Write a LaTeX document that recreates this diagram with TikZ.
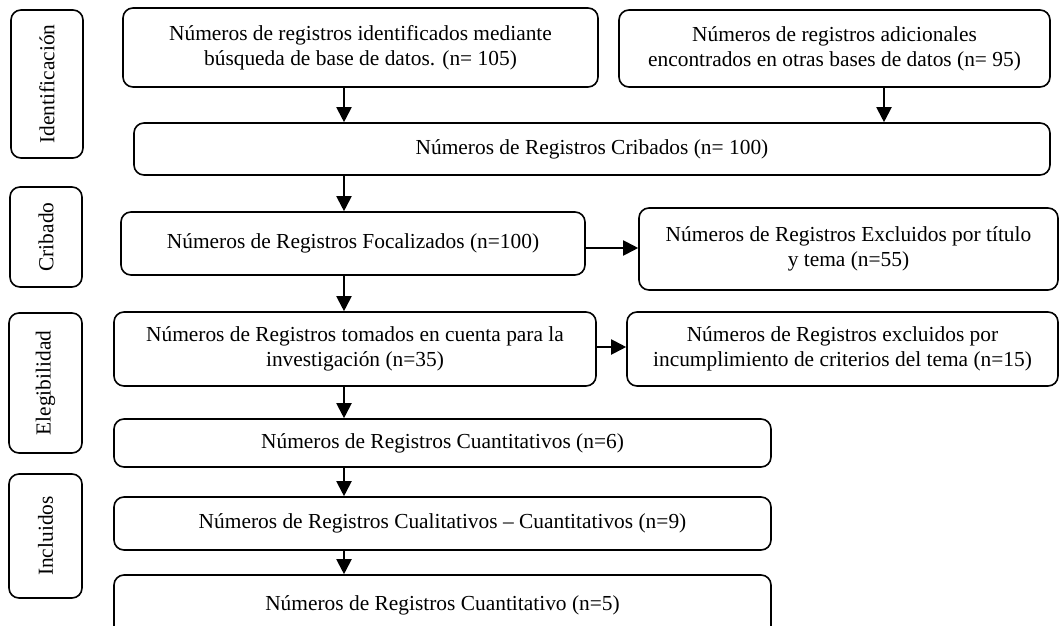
\documentclass[tikz,border=0pt]{standalone}
\usepackage{fontspec}
\setmainfont{Liberation Serif}
\usetikzlibrary{arrows.meta, positioning, calc}

\begin{document}
\begin{tikzpicture}[
                x=1pt, y=-1pt,
                box/.style={draw, rounded corners=10pt, line width=1.6pt, align=center, inner sep=0pt,
                    font=\fontsize{21.4}{25}\selectfont},
                phase/.style={box, rotate=90},
                arr/.style={-{Triangle[width=15pt,length=15pt]}, line width=2pt}
            ]
                \useasboundingbox (0,0) rectangle (1061,626);

                % Phases
                \node[phase, minimum width=148pt, minimum height=72pt] (ident) at (47,84) {Identificación};
                \node[phase, minimum width=100pt, minimum height=72pt] (crib) at (46,237) {Cribado};
                \node[phase, minimum width=140pt, minimum height=73pt] (eleg) at (45.5,383) {Elegibilidad};
                \node[phase, minimum width=124pt, minimum height=73pt] (incl) at (45.5,536) {Incluidos};

                % Boxes
                \node[box, minimum width=475pt, minimum height=79pt] (busq) at (360.5,47.5)
                    {Números de registros identificados mediante\\búsqueda de base de datos. (n= 105)};
                \node[box, minimum width=431pt, minimum height=77pt] (adic) at (834.5,48.5)
                    {Números de registros adicionales\\encontrados en otras bases de datos (n= 95)};
                \node[box, minimum width=916pt, minimum height=52pt] (cribados) at (592,149)
                    {Números de Registros Cribados (n= 100)};
                \node[box, minimum width=464pt, minimum height=63pt] (focal) at (353,243.5)
                    {Números de Registros Focalizados (n=100)};
                \node[box, minimum width=419pt, minimum height=82pt] (exctit) at (848.5,249)
                    {Números de Registros Excluidos por título\\y tema (n=55)};
                \node[box, minimum width=482pt, minimum height=74pt] (tomados) at (355,349)
                    {Números de Registros tomados en cuenta para la\\investigación (n=35)};
                \node[box, minimum width=431pt, minimum height=74pt] (exccrit) at (842.5,349)
                    {Números de Registros excluidos por\\incumplimiento de criterios del tema (n=15)};
                \node[box, minimum width=657pt, minimum height=48pt] (cuanti) at (442.5,443)
                    {Números de Registros Cuantitativos (n=6)};
                \node[box, minimum width=657pt, minimum height=53pt] (mixto) at (442.5,523.5)
                    {Números de Registros Cualitativos – Cuantitativos (n=9)};
                \node[box, minimum width=657pt, minimum height=61pt] (final) at (442.5,605.5)
                    {Números de Registros Cuantitativo (n=5)};

                % Arrows
                \coordinate (ax) at (344,0);
                \coordinate (bx) at (884,0);
                \draw[arr] (busq.south -| ax) -- (cribados.north -| ax);
                \draw[arr] (adic.south -| bx) -- (cribados.north -| bx);
                \draw[arr] (cribados.south -| ax) -- (focal.north -| ax);
                \draw[arr] (focal.south -| ax) -- (tomados.north -| ax);
                \draw[arr] ([yshift=-4.5pt]focal.east) -- ([yshift=-4.5pt]focal.east -| exctit.west);
                \draw[arr] ([yshift=2pt]tomados.east) -- ([yshift=2pt]tomados.east -| exccrit.west);
                \draw[arr] (tomados.south -| ax) -- (cuanti.north -| ax);
                \draw[arr] (cuanti.south -| ax) -- (mixto.north -| ax);
                \draw[arr] (mixto.south -| ax) -- (final.north -| ax);
            \end{tikzpicture}
\end{document}
